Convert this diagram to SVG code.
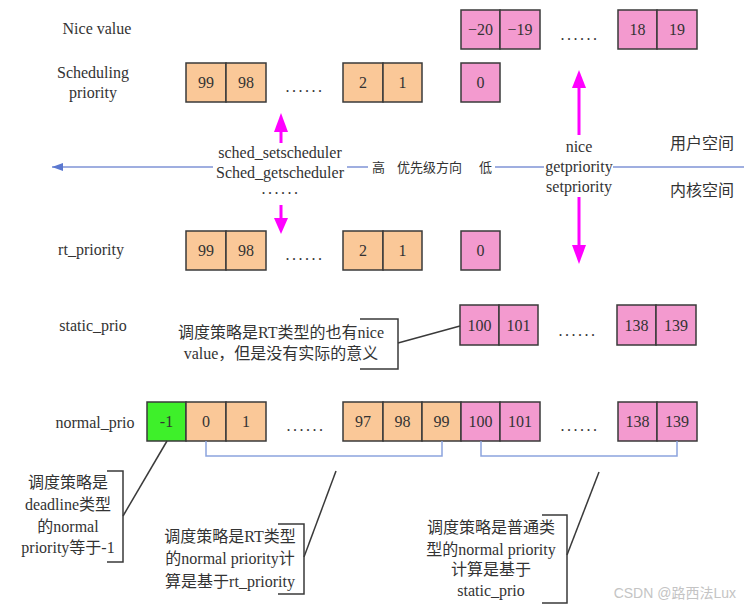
<svg xmlns="http://www.w3.org/2000/svg" width="748" height="606" viewBox="0 0 748 606">
<defs>
<style>
text{font-family:"Liberation Serif","Noto Sans CJK SC",serif;font-size:16px;fill:#333;}
.c{text-anchor:middle;}
.o{fill:#FAC898;stroke:#3a3a3a;stroke-width:1.5;}
.p{fill:#F39ACF;stroke:#3a3a3a;stroke-width:1.5;}
.g{fill:#3EF02A;stroke:#3a3a3a;stroke-width:1.5;}
.dots{text-anchor:middle;letter-spacing:2.5px;font-size:16px;}
.cn{font-size:13px;}
.mag{stroke:#FF00FF;stroke-width:3;fill:none;}
.blue{stroke:#7F93D6;stroke-width:1.5;fill:none;}
.br{stroke:#8CA4DE;stroke-width:1.5;fill:none;}
.ln{stroke:#3a3a3a;stroke-width:1.5;fill:none;}
.wm{font-family:"Liberation Sans","Noto Sans CJK SC",sans-serif;font-size:14px;fill:#c4c4c4;text-anchor:end;}
</style>
<marker id="ba" markerWidth="12" markerHeight="10" refX="11" refY="5" orient="auto" markerUnits="userSpaceOnUse">
<path d="M0,1 L11,5 L0,9 Z" fill="#5B78D0"/>
</marker>
</defs>

<g id="labels">
<text class="c" x="97" y="34">Nice value</text>
<text class="c" x="93" y="78">Scheduling</text>
<text class="c" x="93" y="98">priority</text>
<text class="c" x="91" y="255">rt_priority</text>
<text class="c" x="93" y="331">static_prio</text>
<text class="c" x="95" y="428">normal_prio</text>
</g>

<g id="nice-row">
<rect class="p" x="461" y="10" width="39" height="39"/><text class="c" x="480.5" y="35">−20</text>
<rect class="p" x="500" y="10" width="40" height="39"/><text class="c" x="520" y="35">−19</text>
<text class="dots" x="580" y="40">......</text>
<rect class="p" x="618" y="10" width="39" height="39"/><text class="c" x="637.5" y="35">18</text>
<rect class="p" x="657" y="10" width="40" height="39"/><text class="c" x="677" y="35">19</text>
</g>

<g id="sched-row">
<rect class="o" x="186" y="63" width="40" height="39"/><text class="c" x="206" y="88">99</text>
<rect class="o" x="226" y="63" width="40" height="39"/><text class="c" x="246" y="88">98</text>
<text class="dots" x="305" y="92">......</text>
<rect class="o" x="343" y="63" width="40" height="39"/><text class="c" x="363" y="88">2</text>
<rect class="o" x="383" y="63" width="39" height="39"/><text class="c" x="402.5" y="88">1</text>
<rect class="p" x="461" y="63" width="39" height="39"/><text class="c" x="480.5" y="88">0</text>
</g>

<g id="rt-row">
<rect class="o" x="186" y="231" width="40" height="39"/><text class="c" x="206" y="256">99</text>
<rect class="o" x="226" y="231" width="40" height="39"/><text class="c" x="246" y="256">98</text>
<text class="dots" x="305" y="260">......</text>
<rect class="o" x="343" y="231" width="40" height="39"/><text class="c" x="363" y="256">2</text>
<rect class="o" x="383" y="231" width="39" height="39"/><text class="c" x="402.5" y="256">1</text>
<rect class="p" x="461" y="231" width="39" height="39"/><text class="c" x="480.5" y="256">0</text>
</g>

<g id="static-row">
<rect class="p" x="460" y="305" width="39" height="40"/><text class="c" x="479.5" y="331">100</text>
<rect class="p" x="499" y="305" width="39" height="40"/><text class="c" x="518.5" y="331">101</text>
<text class="dots" x="578" y="336">......</text>
<rect class="p" x="617" y="305" width="39" height="40"/><text class="c" x="636.5" y="331">138</text>
<rect class="p" x="656" y="305" width="40" height="40"/><text class="c" x="676" y="331">139</text>
</g>

<g id="normal-row">
<rect class="g" x="147" y="402" width="39" height="39"/><text class="c" x="166.5" y="427">-1</text>
<rect class="o" x="186" y="402" width="40" height="39"/><text class="c" x="206" y="427">0</text>
<rect class="o" x="226" y="402" width="40" height="39"/><text class="c" x="246" y="427">1</text>
<text class="dots" x="306" y="431">......</text>
<rect class="o" x="343" y="402" width="40" height="39"/><text class="c" x="363" y="427">97</text>
<rect class="o" x="383" y="402" width="39" height="39"/><text class="c" x="402.5" y="427">98</text>
<rect class="o" x="422" y="402" width="39" height="39"/><text class="c" x="441.5" y="427">99</text>
<rect class="p" x="461" y="402" width="39" height="39"/><text class="c" x="480.5" y="427">100</text>
<rect class="p" x="500" y="402" width="40" height="39"/><text class="c" x="520" y="427">101</text>
<text class="dots" x="580" y="431">......</text>
<rect class="p" x="618" y="402" width="39" height="39"/><text class="c" x="637.5" y="427">138</text>
<rect class="p" x="657" y="402" width="40" height="39"/><text class="c" x="677" y="427">139</text>
</g>

<g id="syscalls">
<text class="c" x="280" y="158">sched_setscheduler</text>
<text class="c" x="280" y="178">Sched_getscheduler</text>
<text class="dots" x="281" y="194">......</text>
<text class="c" x="579" y="152">nice</text>
<text class="c" x="579" y="172">getpriority</text>
<text class="c" x="579" y="192">setpriority</text>
<text class="cn" x="372" y="172">高</text>
<text class="cn" x="397" y="172">优先级方向</text>
<text class="cn" x="479" y="172">低</text>
<text x="670" y="149">用户空间</text>
<text x="670" y="196">内核空间</text>
</g>

<g id="callout-rt-nice">
<text class="c" x="281" y="338">调度策略是RT类型的也有nice</text>
<text class="c" x="281" y="359">value，但是没有实际的意义</text>
<path class="ln" d="M360,319 H398 V369 H360"/>
</g>

<g id="callout-deadline">
<text class="c" x="68" y="488">调度策略是</text>
<text class="c" x="68" y="510">deadline类型</text>
<text class="c" x="68" y="532">的normal</text>
<text class="c" x="68" y="553">priority等于-1</text>
<path class="ln" d="M107,471 H123 V562 H107"/>
</g>

<g id="callout-rt">
<text class="c" x="230" y="542">调度策略是RT类型</text>
<text class="c" x="230" y="564">的normal priority计</text>
<text class="c" x="230" y="587">算是基于rt_priority</text>
<path class="ln" d="M278,524 H304 V594 H278"/>
</g>

<g id="callout-normal">
<text class="c" x="491" y="533">调度策略是普通类</text>
<text class="c" x="491" y="555">型的normal priority</text>
<text class="c" x="491" y="575">计算是基于</text>
<text class="c" x="491" y="596">static_prio</text>
<path class="ln" d="M542,515 H567 V603 H542"/>
</g>

<g id="connectors">
<path class="blue" d="M213,167 H52" marker-end="url(#ba)"/>
<path class="blue" d="M347,167 H368"/>
<path class="blue" d="M495,167 H544"/>
<path class="blue" d="M613,167 H744"/>
<path class="mag" d="M281,143 V130"/>
<path d="M274,132 L281,113 L288,132 Z" fill="#FF00FF"/>
<path class="mag" d="M281,205 V220"/>
<path d="M274,218 L281,234 L288,218 Z" fill="#FF00FF"/>
<path class="mag" d="M579,135 V86"/>
<path d="M572,88 L579,70 L586,88 Z" fill="#FF00FF"/>
<path class="mag" d="M579,197 V247"/>
<path d="M572,245 L579,264 L586,245 Z" fill="#FF00FF"/>
<path class="ln" d="M398,343 L460,326"/>
<path class="ln" d="M167,441 L123,516"/>
<path class="ln" d="M304,557 L336,471"/>
<path class="ln" d="M567,555 L599,472"/>
<path class="br" d="M206,441 V456 H442 V441"/>
<path class="br" d="M481,441 V456 H677 V441"/>
</g>

<text class="wm" x="736" y="598">CSDN @路西法Lux</text>
</svg>
